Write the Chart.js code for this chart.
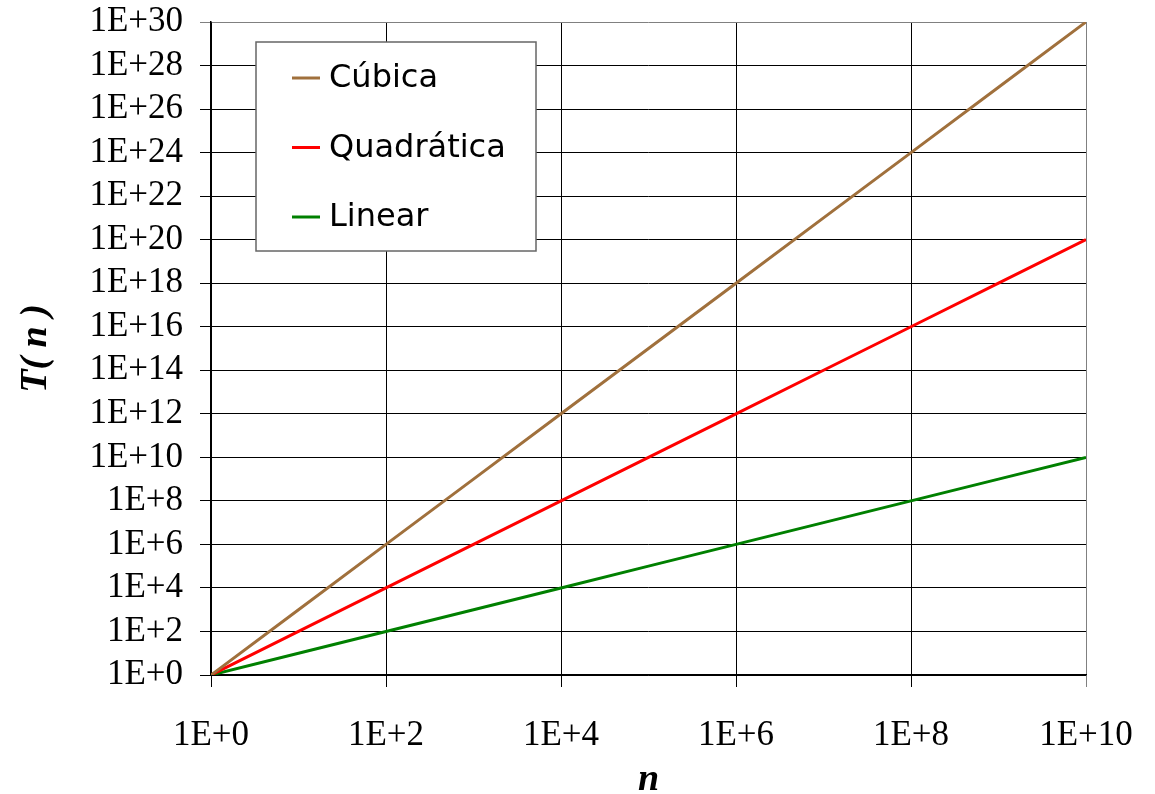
<!DOCTYPE html>
<html>
<head>
<meta charset="utf-8">
<script src="https://cdn.jsdelivr.net/npm/chart.js@4/dist/chart.umd.min.js"></script>
<style>
  html, body { margin: 0; padding: 0; background: #fff; }
  #wrap { width: 1155px; height: 794px; }
</style>
</head>
<body>
<div id="wrap"><canvas id="chart" width="1155" height="794"></canvas></div>
<script>
// values (log-log, one point per decade)
const nValues    = [1, 1e1, 1e2, 1e3, 1e4, 1e5, 1e6, 1e7, 1e8, 1e9, 1e10];
const linear     = [1, 1e1, 1e2, 1e3, 1e4, 1e5, 1e6, 1e7, 1e8, 1e9, 1e10];
const quadratic  = [1, 1e2, 1e4, 1e6, 1e8, 1e10, 1e12, 1e14, 1e16, 1e18, 1e20];
const cubic      = [1, 1e3, 1e6, 1e9, 1e12, 1e15, 1e18, 1e21, 1e24, 1e27, 1e30];

const seriesNames  = ['Cúbica', 'Quadrática', 'Linear'];
const seriesColors = ['#A0703C', '#FF0000', '#008000'];

const xTicks = [1, 1e2, 1e4, 1e6, 1e8, 1e10];
const xTickLabels = ['1E+0', '1E+2', '1E+4', '1E+6', '1E+8', '1E+10'];
const yTicks = [1, 1e2, 1e4, 1e6, 1e8, 1e10, 1e12, 1e14, 1e16, 1e18, 1e20, 1e22, 1e24, 1e26, 1e28, 1e30];
const yTickLabels = ['1E+0', '1E+2', '1E+4', '1E+6', '1E+8', '1E+10', '1E+12', '1E+14',
  '1E+16', '1E+18', '1E+20', '1E+22', '1E+24', '1E+26', '1E+28', '1E+30'];

function pts(ys) {
  return nValues.map((x, i) => ({ x: x, y: ys[i] }));
}

// legend box drawn inside the plot, like the original
const boxLegend = {
  id: 'boxLegend',
  afterDraw(chart) {
    const ctx = chart.ctx;
    const x0 = 256, y0 = 42, w = 280, h = 209;
    ctx.save();
    ctx.fillStyle = '#fff';
    ctx.fillRect(x0, y0, w, h);
    ctx.strokeStyle = '#666';
    ctx.lineWidth = 1.5;
    ctx.strokeRect(x0, y0, w, h);
    ctx.font = '32px "DejaVu Sans", sans-serif';
    ctx.textBaseline = 'middle';
    chart.data.datasets.forEach((ds, i) => {
      const y = 78 + i * 69.5;
      ctx.strokeStyle = ds.borderColor;
      ctx.lineWidth = 3;
      ctx.beginPath();
      ctx.moveTo(292, y);
      ctx.lineTo(320, y);
      ctx.stroke();
      ctx.fillStyle = '#000';
      ctx.fillText(ds.label, 329, y + 1);
    });
    ctx.restore();
  }
};

const datasets = [cubic, quadratic, linear].map((ys, i) => ({
  label: seriesNames[i],
  data: pts(ys),
  borderColor: seriesColors[i],
  backgroundColor: seriesColors[i],
  borderWidth: 3,
  pointRadius: 0,
  showLine: true,
  tension: 0
}));

function edgeColor(last) {
  return ctx => (ctx.index === last ? '#808080' : '#000');
}

new Chart(document.getElementById('chart'), {
  type: 'scatter',
  data: { datasets: datasets },
  plugins: [boxLegend],
  options: {
    responsive: false,
    animation: false,
    layout: { padding: { top: 22, right: 69, bottom: 0, left: 0 } },
    plugins: { legend: { display: false }, tooltip: { enabled: false } },
    scales: {
      x: {
        type: 'logarithmic',
        min: 1, max: 1e10,
        afterBuildTicks: s => { s.ticks = xTicks.map(v => ({ value: v })); },
        afterFit: s => { s.height = 119; s.paddingLeft = 0; s.paddingRight = 0; },
        grid: { color: edgeColor(xTicks.length - 1), lineWidth: 1, tickLength: 12 },
        border: { color: '#000', width: 1.5 },
        ticks: {
          autoSkip: false, maxRotation: 0, padding: 28, color: '#000',
          font: { family: '"Liberation Serif", serif', size: 35 },
          callback: (v, i) => xTickLabels[i]
        },
        title: {
          display: true, text: 'n', color: '#000',
          font: { family: '"Liberation Serif", serif', size: 38, style: 'italic', weight: 'bold', lineHeight: 0.75 },
          padding: { top: 0, bottom: 0 }
        }
      },
      y: {
        type: 'logarithmic',
        min: 1, max: 1e30,
        afterBuildTicks: s => { s.ticks = yTicks.map(v => ({ value: v })); },
        afterFit: s => { s.width = 211; s.paddingTop = 0; s.paddingBottom = 0; },
        grid: { color: edgeColor(yTicks.length - 1), lineWidth: 1, tickLength: 11 },
        border: { color: '#000', width: 1.5 },
        ticks: {
          autoSkip: false, padding: 17, color: '#000',
          font: { family: '"Liberation Serif", serif', size: 35 },
          callback: (v, i) => yTickLabels[i]
        },
        title: {
          display: true, text: 'T( n )', color: '#000',
          font: { family: '"Liberation Serif", serif', size: 38, style: 'italic', weight: 'bold', lineHeight: 1 },
          padding: { top: 17, bottom: 0 }
        }
      }
    }
  }
});
</script>
</body>
</html>
